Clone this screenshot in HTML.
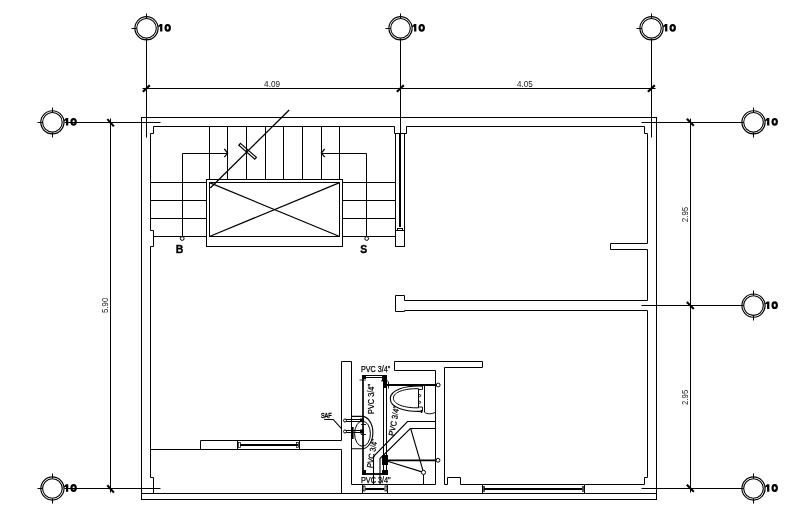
<!DOCTYPE html>
<html><head><meta charset="utf-8"><style>
html,body{margin:0;padding:0;background:#fff;}
body{width:807px;height:508px;overflow:hidden;}
svg{display:block;will-change:transform;}
svg *{stroke:#000;}
text{stroke:none !important;fill:#000;font-family:"Liberation Sans",sans-serif;}
text.d{fill:#1a1a1a;}
text.s{stroke-width:0.45px !important;}
text.b{stroke:#000 !important;stroke-width:0.35px;}
text.p{stroke:#000 !important;stroke-width:0.25px;}
</style></head><body>
<svg width="807" height="508" viewBox="0 0 807 508">
<circle cx="146.5" cy="28.3" r="11.6" stroke-width="1.15" fill="none"/>
<circle cx="146.5" cy="28.3" r="9.8" stroke-width="1.1" fill="none"/>
<line x1="146.5" y1="13.5" x2="146.5" y2="18.5" stroke-width="1.0" />
<line x1="146.5" y1="38.5" x2="146.5" y2="43.5" stroke-width="1.0" />
<line x1="131.5" y1="28.5" x2="136.5" y2="28.5" stroke-width="1.0" />
<path d="M160.10,24.10 L162.35,24.10 L162.35,31.60 L160.10,31.60 L160.10,26.50 L158.10,27.30 L158.10,26.00 Z" fill="#000" style="stroke:none"/>
<ellipse cx="167.70" cy="27.85" rx="2.15" ry="2.85" fill="none" stroke-width="2.15"/>
<circle cx="400.5" cy="28.3" r="11.6" stroke-width="1.15" fill="none"/>
<circle cx="400.5" cy="28.3" r="9.8" stroke-width="1.1" fill="none"/>
<line x1="400.5" y1="13.5" x2="400.5" y2="18.5" stroke-width="1.0" />
<line x1="400.5" y1="38.5" x2="400.5" y2="43.5" stroke-width="1.0" />
<line x1="385.5" y1="28.5" x2="390.5" y2="28.5" stroke-width="1.0" />
<path d="M414.10,24.10 L416.35,24.10 L416.35,31.60 L414.10,31.60 L414.10,26.50 L412.10,27.30 L412.10,26.00 Z" fill="#000" style="stroke:none"/>
<ellipse cx="421.70" cy="27.85" rx="2.15" ry="2.85" fill="none" stroke-width="2.15"/>
<circle cx="651.5" cy="28.3" r="11.6" stroke-width="1.15" fill="none"/>
<circle cx="651.5" cy="28.3" r="9.8" stroke-width="1.1" fill="none"/>
<line x1="651.5" y1="13.5" x2="651.5" y2="18.5" stroke-width="1.0" />
<line x1="651.5" y1="38.5" x2="651.5" y2="43.5" stroke-width="1.0" />
<line x1="636.5" y1="28.5" x2="641.5" y2="28.5" stroke-width="1.0" />
<path d="M665.10,24.10 L667.35,24.10 L667.35,31.60 L665.10,31.60 L665.10,26.50 L663.10,27.30 L663.10,26.00 Z" fill="#000" style="stroke:none"/>
<ellipse cx="672.70" cy="27.85" rx="2.15" ry="2.85" fill="none" stroke-width="2.15"/>
<circle cx="52.4" cy="122.3" r="11.6" stroke-width="1.15" fill="none"/>
<circle cx="52.4" cy="122.3" r="9.8" stroke-width="1.1" fill="none"/>
<line x1="52.5" y1="107.5" x2="52.5" y2="112.5" stroke-width="1.0" />
<line x1="52.5" y1="132.5" x2="52.5" y2="137.5" stroke-width="1.0" />
<line x1="37.5" y1="122.5" x2="42.5" y2="122.5" stroke-width="1.0" />
<path d="M66.00,118.10 L68.25,118.10 L68.25,125.60 L66.00,125.60 L66.00,120.50 L64.00,121.30 L64.00,120.00 Z" fill="#000" style="stroke:none"/>
<ellipse cx="73.60" cy="121.85" rx="2.15" ry="2.85" fill="none" stroke-width="2.15"/>
<circle cx="52.4" cy="488.5" r="11.6" stroke-width="1.15" fill="none"/>
<circle cx="52.4" cy="488.5" r="9.8" stroke-width="1.1" fill="none"/>
<line x1="52.5" y1="473.5" x2="52.5" y2="478.5" stroke-width="1.0" />
<line x1="52.5" y1="498.5" x2="52.5" y2="503.5" stroke-width="1.0" />
<line x1="37.5" y1="488.5" x2="42.5" y2="488.5" stroke-width="1.0" />
<path d="M66.00,484.30 L68.25,484.30 L68.25,491.80 L66.00,491.80 L66.00,486.70 L64.00,487.50 L64.00,486.20 Z" fill="#000" style="stroke:none"/>
<ellipse cx="73.60" cy="488.05" rx="2.15" ry="2.85" fill="none" stroke-width="2.15"/>
<circle cx="753.5" cy="122.3" r="11.6" stroke-width="1.15" fill="none"/>
<circle cx="753.5" cy="122.3" r="9.8" stroke-width="1.1" fill="none"/>
<line x1="753.5" y1="107.5" x2="753.5" y2="112.5" stroke-width="1.0" />
<line x1="753.5" y1="132.5" x2="753.5" y2="137.5" stroke-width="1.0" />
<line x1="738.5" y1="122.5" x2="743.5" y2="122.5" stroke-width="1.0" />
<path d="M767.10,118.10 L769.35,118.10 L769.35,125.60 L767.10,125.60 L767.10,120.50 L765.10,121.30 L765.10,120.00 Z" fill="#000" style="stroke:none"/>
<ellipse cx="774.70" cy="121.85" rx="2.15" ry="2.85" fill="none" stroke-width="2.15"/>
<circle cx="753.5" cy="305.6" r="11.6" stroke-width="1.15" fill="none"/>
<circle cx="753.5" cy="305.6" r="9.8" stroke-width="1.1" fill="none"/>
<line x1="753.5" y1="290.5" x2="753.5" y2="295.5" stroke-width="1.0" />
<line x1="753.5" y1="315.5" x2="753.5" y2="320.5" stroke-width="1.0" />
<line x1="738.5" y1="305.5" x2="743.5" y2="305.5" stroke-width="1.0" />
<path d="M767.10,301.40 L769.35,301.40 L769.35,308.90 L767.10,308.90 L767.10,303.80 L765.10,304.60 L765.10,303.30 Z" fill="#000" style="stroke:none"/>
<ellipse cx="774.70" cy="305.15" rx="2.15" ry="2.85" fill="none" stroke-width="2.15"/>
<circle cx="753.5" cy="488.5" r="11.6" stroke-width="1.15" fill="none"/>
<circle cx="753.5" cy="488.5" r="9.8" stroke-width="1.1" fill="none"/>
<line x1="753.5" y1="473.5" x2="753.5" y2="478.5" stroke-width="1.0" />
<line x1="753.5" y1="498.5" x2="753.5" y2="503.5" stroke-width="1.0" />
<line x1="738.5" y1="488.5" x2="743.5" y2="488.5" stroke-width="1.0" />
<path d="M767.10,484.30 L769.35,484.30 L769.35,491.80 L767.10,491.80 L767.10,486.70 L765.10,487.50 L765.10,486.20 Z" fill="#000" style="stroke:none"/>
<ellipse cx="774.70" cy="488.05" rx="2.15" ry="2.85" fill="none" stroke-width="2.15"/>
<line x1="146.5" y1="40.5" x2="146.5" y2="137.5" stroke-width="1.0" />
<line x1="400.5" y1="40.5" x2="400.5" y2="133.5" stroke-width="1.0" />
<line x1="651.5" y1="40.5" x2="651.5" y2="137.5" stroke-width="1.0" />
<line x1="64.5" y1="122.5" x2="160.5" y2="122.5" stroke-width="1.0" />
<line x1="64.5" y1="488.5" x2="160.5" y2="488.5" stroke-width="1.0" />
<line x1="641.5" y1="122.5" x2="742.5" y2="122.5" stroke-width="1.0" />
<line x1="641.5" y1="305.5" x2="742.5" y2="305.5" stroke-width="1.0" />
<line x1="641.5" y1="488.5" x2="742.5" y2="488.5" stroke-width="1.0" />
<line x1="142.5" y1="88.5" x2="655.5" y2="88.5" stroke-width="1.0" />
<line x1="142.9" y1="91.8" x2="149.8" y2="85.2" stroke-width="2.2" />
<line x1="396.9" y1="91.8" x2="403.8" y2="85.2" stroke-width="2.2" />
<line x1="647.9" y1="91.8" x2="654.8" y2="85.2" stroke-width="2.2" />
<line x1="110.5" y1="118.5" x2="110.5" y2="492.5" stroke-width="1.0" />
<line x1="107.3" y1="119.1" x2="113.9" y2="126.39999999999999" stroke-width="2.1" />
<line x1="107.3" y1="485.3" x2="113.9" y2="492.6" stroke-width="2.1" />
<line x1="690.5" y1="118.5" x2="690.5" y2="492.5" stroke-width="1.0" />
<line x1="686.8" y1="118.7" x2="693.8" y2="125.7" stroke-width="2.1" />
<line x1="686.8" y1="302.0" x2="693.8" y2="309.0" stroke-width="2.1" />
<line x1="686.8" y1="484.79999999999995" x2="693.8" y2="491.79999999999995" stroke-width="2.1" />
<text x="264.1" y="86.7" font-size="9.6" textLength="16.0" lengthAdjust="spacingAndGlyphs"  class="d">4.09</text>
<text x="517.0" y="86.9" font-size="9.6" textLength="15.8" lengthAdjust="spacingAndGlyphs"  class="d">4.05</text>
<text x="0" y="0" font-size="9.6" textLength="15.4" lengthAdjust="spacingAndGlyphs" transform="translate(107.9,313.0) rotate(-90)" class="d">5.90</text>
<text x="0" y="0" font-size="9.6" textLength="15.4" lengthAdjust="spacingAndGlyphs" transform="translate(688.0,222.2) rotate(-90)" class="d">2.95</text>
<text x="0" y="0" font-size="9.6" textLength="15.2" lengthAdjust="spacingAndGlyphs" transform="translate(688.0,404.9) rotate(-90)" class="d">2.95</text>
<rect x="141.5" y="117.5" width="515.0" height="382.0" stroke-width="1.0" fill="none"/>
<line x1="141.5" y1="493.5" x2="656.5" y2="493.5" stroke-width="1.0" />
<path d="M394.5,126.5 L153.5,126.5 L153.5,133.5 L150.5,133.5 L150.5,230.5 L153.5,230.5 L153.5,246.5 L150.5,246.5 L150.5,477.5 L153.5,477.5 L153.5,493.5" stroke-width="1.0" fill="none"/>
<path d="M406.5,126.5 L644.5,126.5 L644.5,133.5 L647.5,133.5 L647.5,243.5 L610.5,243.5 L610.5,249.5 L647.5,249.5 L647.5,300.5 L404.5,300.5 L404.5,295.5 L395.5,295.5 L395.5,311.5 L404.5,311.5 L404.5,310.5 L647.5,310.5 L647.5,477.5 L644.5,477.5 L644.5,484.5 L584.5,484.5" stroke-width="1.0" fill="none"/>
<path d="M394.5,126.5 L394.5,133.5 L406.5,133.5 L406.5,126.5" stroke-width="1.0" fill="none"/>
<rect x="395.5" y="133.5" width="9.0" height="113.0" stroke-width="1.0" fill="none"/>
<line x1="400.0" y1="134.0" x2="400.0" y2="227.0" stroke-width="2.0" />
<rect x="397.5" y="228.5" width="5.0" height="2.0" stroke-width="1.0" fill="none"/>
<line x1="395.5" y1="230.5" x2="404.5" y2="230.5" stroke-width="1.0" />
<line x1="209.5" y1="126.5" x2="209.5" y2="179.5" stroke-width="1.0" />
<line x1="227.5" y1="126.5" x2="227.5" y2="179.5" stroke-width="1.0" />
<line x1="246.5" y1="126.5" x2="246.5" y2="179.5" stroke-width="1.0" />
<line x1="265.5" y1="126.5" x2="265.5" y2="179.5" stroke-width="1.0" />
<line x1="283.5" y1="126.5" x2="283.5" y2="179.5" stroke-width="1.0" />
<line x1="302.5" y1="126.5" x2="302.5" y2="179.5" stroke-width="1.0" />
<line x1="321.5" y1="126.5" x2="321.5" y2="179.5" stroke-width="1.0" />
<line x1="339.5" y1="126.5" x2="339.5" y2="179.5" stroke-width="1.0" />
<line x1="150.5" y1="182.5" x2="206.5" y2="182.5" stroke-width="1.0" />
<line x1="342.5" y1="182.5" x2="395.5" y2="182.5" stroke-width="1.0" />
<line x1="150.5" y1="200.5" x2="206.5" y2="200.5" stroke-width="1.0" />
<line x1="342.5" y1="200.5" x2="395.5" y2="200.5" stroke-width="1.0" />
<line x1="150.5" y1="218.5" x2="206.5" y2="218.5" stroke-width="1.0" />
<line x1="342.5" y1="218.5" x2="395.5" y2="218.5" stroke-width="1.0" />
<line x1="153.5" y1="236.5" x2="206.5" y2="236.5" stroke-width="1.0" />
<line x1="342.5" y1="236.5" x2="395.5" y2="236.5" stroke-width="1.0" />
<rect x="206.5" y="179.5" width="136.0" height="67.0" stroke-width="1.0" fill="none"/>
<rect x="209.5" y="182.5" width="130.0" height="54.0" stroke-width="1.0" fill="none"/>
<line x1="209.5" y1="182.6" x2="339.6" y2="236.5" stroke-width="1.2" />
<line x1="209.5" y1="236.5" x2="339.6" y2="182.6" stroke-width="1.2" />
<line x1="210.3" y1="188" x2="289.2" y2="110" stroke-width="1.3" />
<path d="M240.42,143.40 L256.42,157.31 L254.78,159.20 L238.78,145.29 Z" fill="none" stroke-width="1.2"/>
<path d="M182.5,238.5 L182.5,153.5 L227.5,153.5" stroke-width="1.0" fill="none"/>
<path d="M224.3,149 L227.7,153.1 L224.3,157.2" stroke-width="1.2" fill="none"/>
<path d="M366.5,238.5 L366.5,153.5 L321.5,153.5" stroke-width="1.0" fill="none"/>
<path d="M324.7,149 L321.3,153.1 L324.7,157.2" stroke-width="1.2" fill="none"/>
<circle cx="182.2" cy="238.5" r="1.9" stroke-width="1.0" fill="#fff"/>
<circle cx="366.7" cy="238.5" r="1.9" stroke-width="1.0" fill="#fff"/>
<text x="179.5" y="252.8" font-size="10.5" font-weight="bold" text-anchor="middle" class="b">B</text>
<text x="363.8" y="252.8" font-size="10.5" font-weight="bold" text-anchor="middle" class="b">S</text>
<line x1="150.5" y1="449.5" x2="341.5" y2="449.5" stroke-width="1.0" />
<path d="M200.5,449.5 L200.5,440.5 L341.5,440.5" stroke-width="1.0" fill="none"/>
<line x1="237.5" y1="440.5" x2="237.5" y2="449.5" stroke-width="1.0" />
<line x1="299.5" y1="440.5" x2="299.5" y2="449.5" stroke-width="1.0" />
<line x1="240.0" y1="445.0" x2="298.0" y2="445.0" stroke-width="2.2" />
<rect x="238.5" y="442.5" width="2.0" height="5.0" stroke-width="0.7" fill="none"/>
<rect x="296.5" y="442.5" width="2.0" height="5.0" stroke-width="0.7" fill="none"/>
<path d="M341.5,440.5 L341.5,361.5 L351.5,361.5 L351.5,484.5 L362.5,484.5" stroke-width="1.0" fill="none"/>
<line x1="341.5" y1="449.5" x2="341.5" y2="493.5" stroke-width="1.0" />
<path d="M394.5,370.5 L394.5,361.5 L482.5,361.5 L482.5,367.5 L444.5,367.5 L444.5,484.5 L447.5,484.5 L447.5,477.5 L460.5,477.5 L460.5,484.5 L482.5,484.5" stroke-width="1.0" fill="none"/>
<path d="M394.5,370.5 L435.5,370.5 L435.5,484.5 L387.5,484.5" stroke-width="1.0" fill="none"/>
<line x1="362.5" y1="484.5" x2="362.5" y2="493.5" stroke-width="1.0" />
<line x1="387.5" y1="484.5" x2="387.5" y2="493.5" stroke-width="1.0" />
<line x1="365.3" y1="489" x2="384.4" y2="489" stroke-width="2.0" />
<line x1="482.5" y1="484.5" x2="482.5" y2="493.5" stroke-width="1.0" />
<line x1="584.5" y1="484.5" x2="584.5" y2="493.5" stroke-width="1.0" />
<line x1="484.0" y1="489.0" x2="582.0" y2="489.0" stroke-width="2.2" />
<rect x="483.5" y="486.5" width="1.0" height="5.0" stroke-width="0.7" fill="none"/>
<rect x="582.5" y="486.5" width="1.0" height="5.0" stroke-width="0.7" fill="none"/>
<line x1="363" y1="375.5" x2="363" y2="471.5" stroke-width="1.7" />
<line x1="362.5" y1="375.5" x2="384.5" y2="375.5" stroke-width="1.0" />
<line x1="366" y1="377.5" x2="384" y2="377.5" stroke-width="1.0" />
<line x1="383.5" y1="388" x2="383.5" y2="456" stroke-width="1.0" />
<line x1="386.5" y1="388" x2="386.5" y2="456" stroke-width="1.0" />
<line x1="383.5" y1="465" x2="383.5" y2="471" stroke-width="1.0" />
<line x1="386.5" y1="465" x2="386.5" y2="471" stroke-width="1.0" />
<line x1="363" y1="474" x2="386.5" y2="474" stroke-width="1.8" />
<rect x="362" y="375" width="4" height="4" fill="#000" stroke="none" style="stroke:none"/>
<rect x="382" y="375" width="5" height="6" fill="#000" stroke="none" style="stroke:none"/>
<rect x="383" y="381" width="4" height="7" fill="#000" stroke="none" style="stroke:none"/>
<line x1="381" y1="381" x2="388" y2="381" stroke-width="0.8" />
<rect x="382" y="455" width="6" height="10" fill="#000" stroke="none" style="stroke:none"/>
<rect x="382" y="470" width="6" height="5" fill="#000" stroke="none" style="stroke:none"/>
<rect x="362" y="470" width="4" height="5" fill="#000" stroke="none" style="stroke:none"/>
<line x1="359.5" y1="380" x2="366" y2="380" stroke-width="0.8" />
<line x1="387" y1="385" x2="436.5" y2="385" stroke-width="1.8" />
<line x1="388.5" y1="381.5" x2="388.5" y2="388.5" stroke-width="0.9" />
<circle cx="438.2" cy="385" r="1.9" stroke-width="1.0" fill="#fff"/>
<path d="M422,386.1 C404,385.6 390.3,390 390.3,398.7 C390.3,407.4 404,411.8 422,411.3" fill="none" stroke-width="1.1"/>
<path d="M418.5,388.7 C405,388.3 393.4,392 393.4,398.2 C393.4,404.4 405,408.2 418.5,407.8 Z" fill="none" stroke-width="1.0"/>
<path d="M418.5,389.5 L422.5,389.5 L422.5,386" stroke-width="0.9" fill="none"/>
<path d="M418.5,407 L422.5,407 L422.5,411.5" stroke-width="0.9" fill="none"/>
<line x1="421.5" y1="410" x2="421.5" y2="413" stroke-width="1.6" />
<circle cx="419.6" cy="395.6" r="1.1" stroke-width="0.9" fill="none"/>
<circle cx="419.6" cy="402.3" r="1.1" stroke-width="0.9" fill="none"/>
<path d="M424.5,385.5 L424.5,412.2" stroke-width="1.0" fill="none"/>
<path d="M424.5,412.2 C427,414.3 432,414.3 435.5,412.2" fill="none" stroke-width="1"/>
<path d="M373.5,484.4 L373.5,456.5 L407.5,421.5 L435.5,421.5" stroke-width="1.1" fill="none"/>
<path d="M380,484.4 L380,458.5 L410.3,428.5 L435.5,428.5" stroke-width="1.1" fill="none"/>
<line x1="387" y1="460.3" x2="436.5" y2="460.3" stroke-width="1.8" />
<circle cx="438.0" cy="460.3" r="1.9" stroke-width="1.0" fill="#fff"/>
<path d="M387.5,461.3 L423.5,472.4" stroke-width="1.1" fill="none"/>
<line x1="410.8" y1="429" x2="423.5" y2="472.4" stroke-width="1.1" />
<line x1="423.5" y1="474.5" x2="423.5" y2="484.4" stroke-width="1.0" />
<circle cx="423.5" cy="472.4" r="2.1" stroke-width="1.0" fill="#fff"/>
<path d="M351.5,416.4 L362,416.4 A10.9,16.2 0 0 1 362,448.8 L351.5,448.8" fill="none" stroke-width="1.1"/>
<ellipse cx="362.5" cy="433.7" rx="7.9" ry="12.6" fill="none" stroke-width="1.0"/>
<line x1="346" y1="419.5" x2="362" y2="419.5" stroke-width="1.0" />
<line x1="346" y1="421.5" x2="362" y2="421.5" stroke-width="1.0" />
<line x1="346" y1="430.5" x2="362" y2="430.5" stroke-width="1.0" />
<line x1="346" y1="432.5" x2="362" y2="432.5" stroke-width="1.0" />
<circle cx="345" cy="420.5" r="1.5" stroke-width="1.0" fill="#fff"/>
<circle cx="345" cy="431.5" r="1.5" stroke-width="1.0" fill="#fff"/>
<line x1="352.7" y1="427" x2="352.7" y2="439" stroke-width="1.8" />
<rect x="360" y="418.5" width="4" height="3" fill="#000" stroke="none" style="stroke:none"/>
<rect x="360" y="429.5" width="4" height="4" fill="#000" stroke="none" style="stroke:none"/>
<line x1="361" y1="424.5" x2="366" y2="424.5" stroke-width="0.9" />
<line x1="361" y1="434.5" x2="366" y2="434.5" stroke-width="0.9" />
<path d="M324.2,419.5 L333.2,419.5 L341.9,429.1" stroke-width="1.1" fill="none"/>
<text x="320.9" y="417.8" font-size="7.9" textLength="10.8" lengthAdjust="spacingAndGlyphs"  class="p s">SAF</text>
<text x="361" y="371.8" font-size="8.6" textLength="29.2" lengthAdjust="spacingAndGlyphs"  class="p">PVC 3/4&quot;</text>
<text x="361" y="482.7" font-size="8.6" textLength="29.7" lengthAdjust="spacingAndGlyphs"  class="p">PVC 3/4&quot;</text>
<text x="-15.0" y="3.024" font-size="8.4" textLength="30.0" lengthAdjust="spacingAndGlyphs" transform="translate(371.2,399) rotate(-90)" class="p">PVC 3/4&quot;</text>
<text x="-15.0" y="3.024" font-size="8.4" textLength="30.0" lengthAdjust="spacingAndGlyphs" transform="translate(393.8,421) rotate(-80)" class="p">PVC 3/4&quot;</text>
<text x="-14.5" y="3.024" font-size="8.4" textLength="29.0" lengthAdjust="spacingAndGlyphs" transform="translate(372,453.5) rotate(-80)" class="p">PVC 3/4&quot;</text>
<line x1="362.5" y1="484.5" x2="387.5" y2="484.5" stroke-width="1.0" />
<line x1="482.5" y1="484.5" x2="584.5" y2="484.5" stroke-width="1.0" />
<rect x="363.1" y="486" width="1.9" height="4.9" stroke-width="0.8" fill="none"/>
<rect x="385" y="486" width="1.9" height="4.9" stroke-width="0.8" fill="none"/>
</svg>
</body></html>
